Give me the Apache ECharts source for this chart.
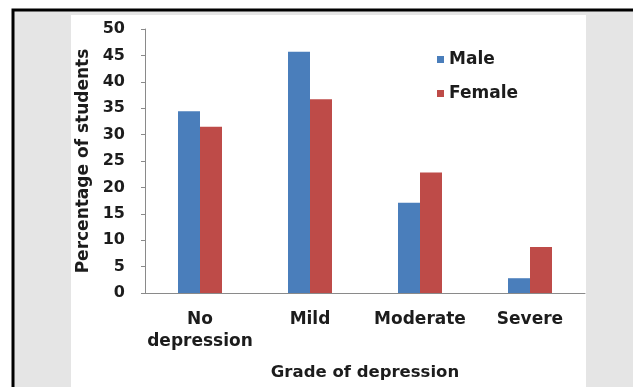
<!DOCTYPE html>
<html>
<head>
<meta charset="utf-8">
<script src="https://cdn.jsdelivr.net/npm/echarts@6/dist/echarts.min.js"></script>
<style>
html,body{margin:0;padding:0;background:#fff;}
#chart{width:633px;height:387px;}
</style>
</head>
<body>
<div id="chart"></div>
<script>
const categories = ['No\ndepression', 'Mild', 'Moderate', 'Severe'];
const maleValues = [34.4, 45.7, 17.1, 2.8];
const femaleValues = [31.5, 36.7, 22.8, 8.7];
const seriesNames = ['Male', 'Female'];

const FONT = 'DejaVu Sans';
const TXT = '#1c1c1c';
const chart = echarts.init(document.getElementById('chart'), null, {renderer: 'canvas'});
chart.setOption({
  animation: false,
  backgroundColor: '#ffffff',
  graphic: [
    {type: 'rect', z: -10, silent: true, shape: {x: 13, y: 10, width: 640, height: 400}, style: {fill: '#e5e5e5', stroke: '#000', lineWidth: 3}},
    {type: 'rect', z: -9, silent: true, shape: {x: 71, y: 15, width: 515, height: 380}, style: {fill: '#ffffff'}}
  ],
  grid: {left: 145, right: 48, top: 29, bottom: 94, containLabel: false},
  legend: {
    orient: 'vertical',
    left: 432, top: 45,
    itemWidth: 7, itemHeight: 7, itemGap: 15,
    icon: 'rect',
    textStyle: {fontFamily: FONT, fontWeight: 'bold', fontSize: 17, color: TXT, lineHeight: 19},
    data: seriesNames
  },
  xAxis: {
    type: 'category',
    data: categories,
    axisLine: {show: true, lineStyle: {color: '#8a8a8a', width: 1}},
    axisTick: {show: false},
    axisLabel: {fontFamily: FONT, fontWeight: 'bold', fontSize: 17, color: TXT, lineHeight: 22, margin: 16, interval: 0},
    name: 'Grade of depression',
    nameLocation: 'middle',
    nameGap: 71,
    nameTextStyle: {fontFamily: FONT, fontWeight: 'bold', fontSize: 16.5, color: TXT}
  },
  yAxis: {
    type: 'value',
    min: 0, max: 50, interval: 5,
    splitLine: {show: false},
    axisLine: {show: true, lineStyle: {color: '#8a8a8a', width: 1}},
    axisTick: {show: true, length: 4, lineStyle: {color: '#8a8a8a'}},
    axisLabel: {fontFamily: FONT, fontWeight: 'bold', fontSize: 16, color: TXT, margin: 20},
    name: 'Percentage of students',
    nameLocation: 'middle',
    nameGap: 52,
    nameTextStyle: {fontFamily: FONT, fontWeight: 'bold', fontSize: 17, color: TXT}
  },
  series: [
    {name: seriesNames[0], type: 'bar', data: maleValues, barWidth: 22, barGap: '0%', itemStyle: {color: '#4a7ebb'}},
    {name: seriesNames[1], type: 'bar', data: femaleValues, barWidth: 22, barGap: '0%', itemStyle: {color: '#be4b48'}}
  ]
});
</script>
</body>
</html>
